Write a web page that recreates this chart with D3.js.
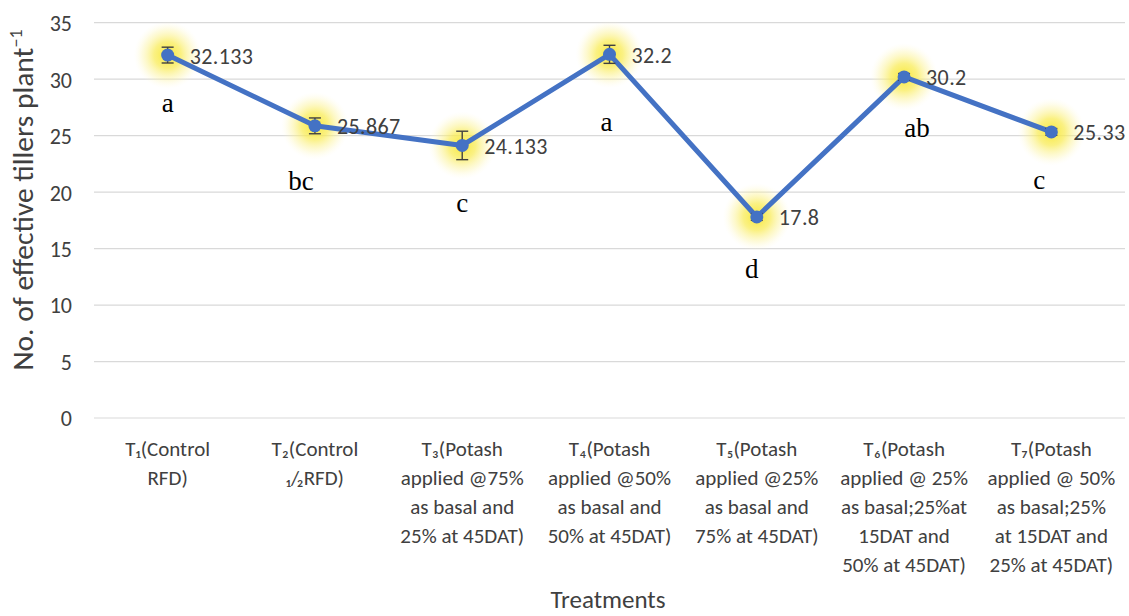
<!DOCTYPE html>
<html><head><meta charset="utf-8">
<script src="https://cdn.jsdelivr.net/npm/d3@7"></script>
<style>body{margin:0;background:#fff}</style>
</head><body>
<svg id="c" width="1129" height="616"></svg>
<script>
const categories = [
  ["T\u2081(Control","RFD)"],
  ["T\u2082(Control","\u2081/\u2082RFD)"],
  ["T\u2083(Potash","applied @75%","as basal and","25% at 45DAT)"],
  ["T\u2084(Potash","applied @50%","as basal and","50% at 45DAT)"],
  ["T\u2085(Potash","applied @25%","as basal and","75% at 45DAT)"],
  ["T\u2086(Potash","applied @ 25%","as basal;25%at","15DAT and","50% at 45DAT)"],
  ["T\u2087(Potash","applied @ 50%","as basal;25%","at 15DAT and","25% at 45DAT)"]
];
const values = [32.133, 25.867, 24.133, 32.2, 17.8, 30.2, 25.33];
const valueLabels = ["32.133","25.867","24.133","32.2","17.8","30.2","25.33"];
const errors = [0.7, 0.7, 1.26, 0.8, 0.3, 0.3, 0.3];
const letters = ["a","bc","c","a","d","ab","c"];
const letterValues = [27.1, 20.2, 18.2, 25.45, 12.4, 24.85, 20.3];
const letterDx = [0, -14, 0, -3, -5, 13, -12];
const yTicks = [0,5,10,15,20,25,30,35];

const FONT = "Carlito, Calibri, 'Open Sans', sans-serif";
const svg = d3.select("#c");
const L = 94, R = 1125, T = 22.7, B = 418;
const x = d3.scaleBand().domain(d3.range(7)).range([L, R]);
const y = d3.scaleLinear().domain([0,35]).range([B, T]);

const defs = svg.append("defs");
const g = defs.append("radialGradient").attr("id","glow");
g.append("stop").attr("offset","0%").attr("stop-color","#f7e730").attr("stop-opacity",0.95);
g.append("stop").attr("offset","40%").attr("stop-color","#f9ec5a").attr("stop-opacity",0.75);
g.append("stop").attr("offset","75%").attr("stop-color","#fcf3a0").attr("stop-opacity",0.35);
g.append("stop").attr("offset","100%").attr("stop-color","#fffbe0").attr("stop-opacity",0);

// gridlines
svg.append("g").selectAll("line").data(yTicks).join("line")
  .attr("x1", L).attr("x2", R).attr("y1", d=>y(d)).attr("y2", d=>y(d))
  .attr("stroke", "#d9d9d9").attr("stroke-width", 1.2);

// y axis labels
const yAxis = d3.axisLeft(y).tickValues(yTicks).tickSize(0).tickPadding(0);
const ya = svg.append("g").attr("transform", `translate(${L-22},0)`).call(yAxis);
ya.select(".domain").remove();
ya.selectAll("text").attr("font-family",FONT).attr("font-size", 22).attr("fill","#404040").attr("dy","0.36em");

// x tick labels
const cx = i => x(i) + x.bandwidth()/2;
const xl = svg.append("g").selectAll("text").data(categories).join("text")
  .attr("x", (d,i)=>cx(i)).attr("y", 456)
  .attr("text-anchor","middle").attr("font-family",FONT)
  .attr("font-size", 21).attr("fill","#404040");
xl.each(function(d,i){
  d3.select(this).selectAll("tspan").data(d).join("tspan")
    .attr("x", cx(i)).attr("dy",(t,j)=> j===0?0:29).text(t=>t);
});

// axis titles
svg.append("text").attr("x", 608).attr("y", 608).attr("text-anchor","middle")
  .attr("font-family",FONT).attr("font-size", 25).attr("fill","#404040")
  .text("Treatments");
const yt = svg.append("text").attr("transform","translate(33,200) rotate(-90)").attr("text-anchor","middle")
  .attr("font-family",FONT).attr("font-size", 29.5).attr("fill","#404040");
yt.append("tspan").text("No. of effective tillers plant");
yt.append("tspan").attr("dy",-11).attr("font-size",18).text("\u22121");

// glows
svg.append("g").selectAll("circle").data(values).join("circle")
  .attr("cx",(d,i)=>cx(i)).attr("cy",d=>y(d)).attr("r",34).attr("fill","url(#glow)");

// line
const line = d3.line().x((d,i)=>cx(i)).y(d=>y(d));
svg.append("path").datum(values).attr("d", line).attr("fill","none")
  .attr("stroke","#4472c4").attr("stroke-width",5).attr("stroke-linejoin","round");

// error bars
const eb = svg.append("g").attr("stroke","#404040").attr("stroke-width",1.4);
values.forEach((v,i)=>{
  const X = cx(i);
  eb.append("line").attr("x1",X).attr("x2",X).attr("y1",y(v-errors[i])).attr("y2",y(v+errors[i]));
  eb.append("line").attr("x1",X-6).attr("x2",X+6).attr("y1",y(v-errors[i])).attr("y2",y(v-errors[i]));
  eb.append("line").attr("x1",X-6).attr("x2",X+6).attr("y1",y(v+errors[i])).attr("y2",y(v+errors[i]));
});

// markers
svg.append("g").selectAll("circle").data(values).join("circle")
  .attr("cx",(d,i)=>cx(i)).attr("cy",d=>y(d)).attr("r",6.5).attr("fill","#4472c4");

// value labels
svg.append("g").selectAll("text").data(values).join("text")
  .attr("x",(d,i)=>cx(i)+22).attr("y",d=>y(d)+8.5)
  .attr("font-family",FONT).attr("font-size",22).attr("letter-spacing",0.4).attr("fill","#404040")
  .text((d,i)=>valueLabels[i]);

// letters
svg.append("g").selectAll("text").data(letters).join("text")
  .attr("x",(d,i)=>cx(i)+letterDx[i]).attr("y",(d,i)=>y(letterValues[i]))
  .attr("text-anchor","middle").attr("font-family","'Liberation Serif', 'DejaVu Serif', serif")
  .attr("font-size",27).attr("fill","#000").text(d=>d);
</script>
</body></html>
